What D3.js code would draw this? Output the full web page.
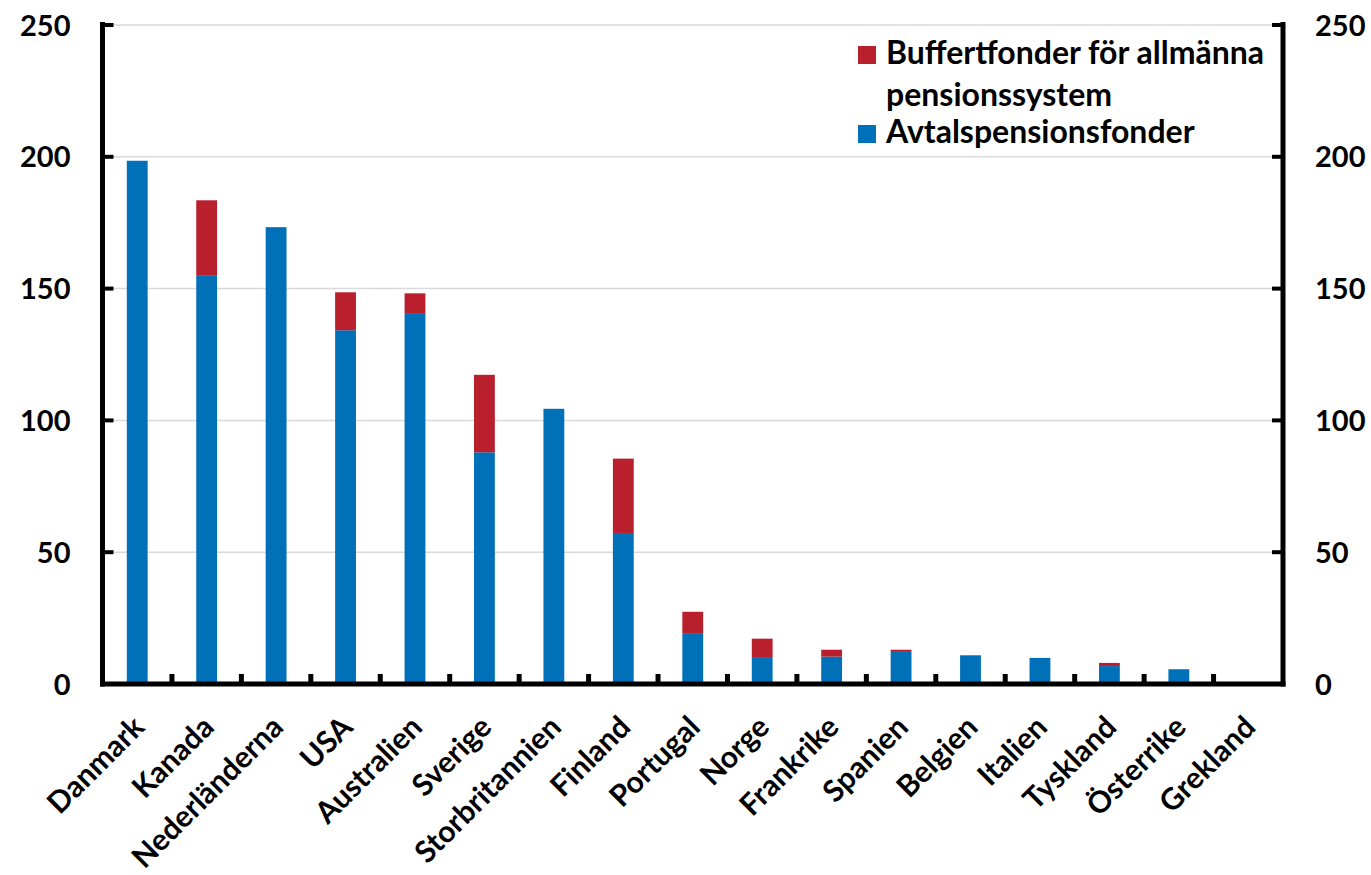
<!DOCTYPE html>
<html><head><meta charset="utf-8">
<script src="https://cdn.jsdelivr.net/npm/d3@7"></script>
<style>
body{margin:0;background:#fff;}
svg text{font-family:Lato,"Open Sans",sans-serif;font-weight:700;fill:#000;}
</style></head>
<body><svg id="c" width="1371" height="875"></svg>
<script>
const categories = ["Danmark","Kanada","Nederländerna","USA","Australien","Sverige","Storbritannien","Finland","Portugal","Norge","Frankrike","Spanien","Belgien","Italien","Tyskland","Österrike","Grekland"];
const avtalspension = [198.5,155.1,173.3,134.2,140.7,87.9,104.4,57.3,19.3,9.9,10.4,12.5,10.9,9.9,6.8,5.6,0];
const buffertfonder = [0,28.4,0,14.4,7.5,29.4,0,28.2,8.1,7.3,2.6,0.5,0,0,1.2,0,0];
const yTicks = [0,50,100,150,200,250];
const seriesNames = ["Buffertfonder för allmänna pensionssystem","Avtalspensionsfonder"];
const colors = {blue:"#0070b8", red:"#b91f2c"};

const svg = d3.select("#c");
const L = 102.5, R = 1283, T = 25, B = 684;
const x = d3.scaleBand().domain(categories).range([L,R]).paddingInner(0).paddingOuter(0);
const y = d3.scaleLinear().domain([0,250]).range([B,T]);
const bw = x.bandwidth()*0.30;

// gridlines
svg.append("g").selectAll("line").data(yTicks.filter(d=>d>0)).join("line")
  .attr("x1",L).attr("x2",R).attr("y1",d=>y(d)).attr("y2",d=>y(d))
  .attr("stroke","#d9d9d9").attr("stroke-width",1.5);

// bars
const data = categories.map((c,i)=>({c, a:avtalspension[i], b:buffertfonder[i]}));
const g = svg.append("g");
g.selectAll("rect.a").data(data).join("rect").attr("class","a")
  .attr("x",d=>x(d.c)+x.bandwidth()/2-bw/2).attr("width",bw)
  .attr("y",d=>y(d.a)).attr("height",d=>y(0)-y(d.a)).attr("fill",colors.blue);
g.selectAll("rect.b").data(data.filter(d=>d.b>0)).join("rect").attr("class","b")
  .attr("x",d=>x(d.c)+x.bandwidth()/2-bw/2).attr("width",bw)
  .attr("y",d=>y(d.a+d.b)).attr("height",d=>y(d.a)-y(d.a+d.b)).attr("fill",colors.red);

// axes
const yl = d3.axisLeft(y).tickValues(yTicks).tickSize(0).tickPadding(32);
const gl = svg.append("g").attr("transform",`translate(${L},0)`).call(yl);
gl.select(".domain").remove();
gl.selectAll("text").attr("font-size",29).attr("dy","0.35em");
const yr = d3.axisRight(y).tickValues(yTicks).tickSize(0).tickPadding(32);
const gr = svg.append("g").attr("transform",`translate(${R},0)`).call(yr);
gr.select(".domain").remove();
gr.selectAll("text").attr("font-size",29).attr("dy","0.35em");

// y tick marks (inward)
svg.append("g").selectAll("line").data(yTicks).join("line")
  .attr("x1",L).attr("x2",L+11).attr("y1",d=>y(d)).attr("y2",d=>y(d))
  .attr("stroke","#000").attr("stroke-width",4);
svg.append("g").selectAll("line").data(yTicks).join("line")
  .attr("x1",R-11).attr("x2",R).attr("y1",d=>y(d)).attr("y2",d=>y(d))
  .attr("stroke","#000").attr("stroke-width",4);

// x tick marks between categories
svg.append("g").selectAll("line").data(categories.slice(1)).join("line")
  .attr("x1",d=>x(d)).attr("x2",d=>x(d)).attr("y1",B).attr("y2",B-10)
  .attr("stroke","#000").attr("stroke-width",5);

// axis lines
svg.append("line").attr("x1",L).attr("x2",L).attr("y1",T-3).attr("y2",B+2.5).attr("stroke","#000").attr("stroke-width",5);
svg.append("line").attr("x1",R).attr("x2",R).attr("y1",T-3).attr("y2",B+2.5).attr("stroke","#000").attr("stroke-width",5);
svg.append("line").attr("x1",L-2.5).attr("x2",R+2.5).attr("y1",B).attr("y2",B).attr("stroke","#000").attr("stroke-width",5);

// x labels
svg.append("g").selectAll("text").data(categories).join("text")
  .attr("transform",d=>`translate(${x(d)+x.bandwidth()/2+9},${B+45}) rotate(-45)`)
  .attr("text-anchor","end").attr("font-size",30).text(d=>d);

// legend
const lg = svg.append("g");
lg.append("rect").attr("x",858).attr("y",46).attr("width",18).attr("height",18).attr("fill",colors.red);
lg.append("text").attr("x",886).attr("y",64).attr("font-size",32).text("Buffertfonder för allmänna");
lg.append("text").attr("x",886).attr("y",106).attr("font-size",32).text("pensionssystem");
lg.append("rect").attr("x",858).attr("y",125).attr("width",18).attr("height",18).attr("fill",colors.blue);
lg.append("text").attr("x",886).attr("y",143).attr("font-size",32).text(seriesNames[1]);
</script></body></html>
